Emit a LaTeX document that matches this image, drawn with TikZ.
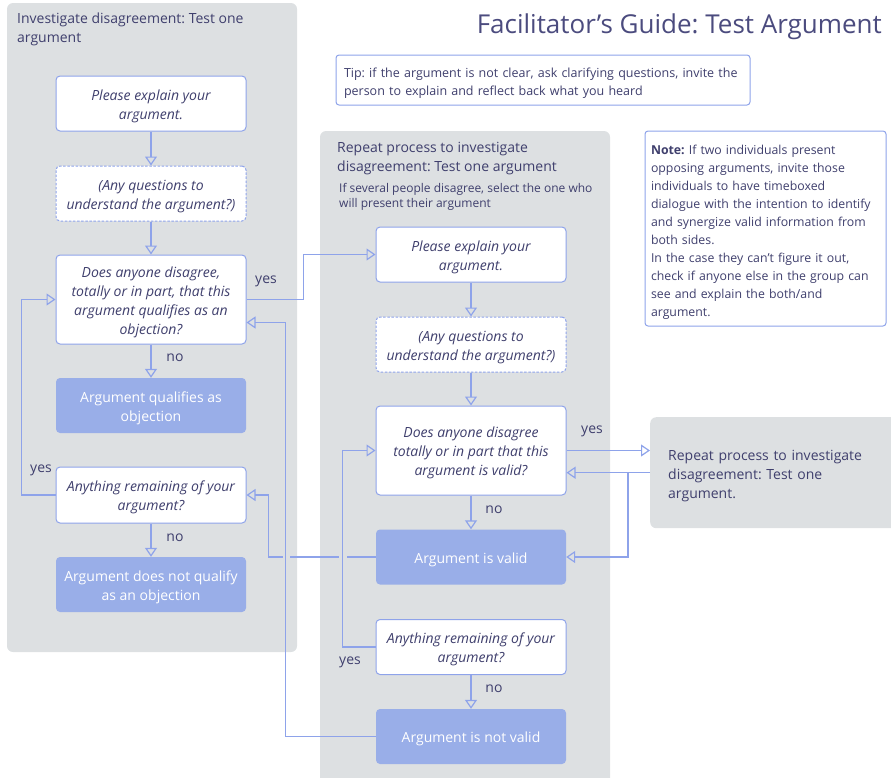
\documentclass[tikz,border=0pt]{standalone}
\usepackage{fontspec}
\setmainfont{Open Sans}
\usetikzlibrary{arrows.meta}
\definecolor{panelgray}{HTML}{DDE0E2}
\definecolor{edgeblue}{HTML}{8EA3EA}
\definecolor{fillblue}{HTML}{99AEE8}
\definecolor{ink}{HTML}{3F3F6D}
\definecolor{titleink}{HTML}{4B4B7E}
\newcommand{\fsz}[2]{\fontsize{#1}{#2}\selectfont}
\newcommand{\lift}{\rule{0pt}{16pt}}
\frenchspacing

\begin{document}
\begin{tikzpicture}[x=1pt, y=-1pt,
  panel/.style={fill=panelgray, rounded corners=6pt},
  card/.style={rounded corners=4pt, minimum width=190pt, inner sep=0pt, align=center},
  question/.style={card, draw=edgeblue, fill=white, line width=1pt, text=ink, font=\fsz{14}{19}\itshape},
  probe/.style={question, dash pattern=on 2.5pt off 1.6pt},
  outcome/.style={card, fill=fillblue, text=white, font=\fsz{14}{19}},
  conn/.style={draw=edgeblue, line width=1.2pt},
  arr/.style={conn, -{Triangle[open, length=9pt, width=12pt]}},
  lbl/.style={text=ink, font=\fsz{14}{16}, inner sep=0pt},
  heading/.style={text=ink, font=\fsz{14}{19}, inner sep=0pt, align=left, anchor=base west},
  notebox/.style={draw=edgeblue, fill=white, rounded corners=3pt, line width=1pt, align=left, text=ink, inner ysep=0pt, execute at begin node=\lift},
  hop/.style={fill=panelgray}
]
\useasboundingbox (0,0) rectangle (891,777);

% background panels
\fill[panel] (7,3) rectangle (297,652);
\fill[panel] (320,131) rectangle (610,800);

% headings (base anchor sits on the last line)
\node[text=titleink, font=\fsz{26}{30}, inner sep=0pt, anchor=base east] (title) at (882,33) {Facilitator’s Guide: Test Argument};
\node[heading] (lefthead) at (17,42) {Investigate disagreement: Test one\\argument};
\node[heading] (midhead) at (337,171) {Repeat process to investigate\\disagreement: Test one argument};
\node[heading, font=\fsz{12}{15.5}] (midsub) at (339,207.5) {If several people disagree, select the one who\\will present their argument};

% tip and note
\node[notebox, minimum width=414pt, minimum height=50pt, text width=398pt, inner xsep=8pt, font=\fsz{12.5}{18}] (tip) at (543,80)
  {Tip: if the argument is not clear, ask clarifying questions, invite the\\person to explain and reflect back what you heard};
\node[notebox, minimum width=241pt, minimum height=195pt, text width=229pt, inner xsep=6pt, font=\fsz{12.3}{18}] (note) at (765.5,228.5)
  {\textbf{Note:} If two individuals present\\opposing arguments, invite those\\individuals to have timeboxed\\dialogue with the intention to identify\\and synergize valid information from\\both sides.\\In the case they can’t figure it out,\\check if anyone else in the group can\\see and explain the both/and\\argument.};

% left column
\node[question, minimum height=55pt] (L1) at (151,103.5) {\lift Please explain your\\argument.};
\node[probe, minimum height=55pt] (L2) at (151,193.5) {\lift (Any questions to\\understand the argument?)};
\node[question, minimum height=89pt] (L3) at (151,299.5) {\lift Does anyone disagree,\\totally or in part, that this\\argument qualifies as an\\objection?};
\node[outcome, minimum height=55pt] (L4) at (151,405.5) {\lift Argument qualifies as\\objection};
\node[question, minimum height=56pt] (L5) at (151,495) {\lift Anything remaining of your\\argument?};
\node[outcome, minimum height=55pt] (L6) at (151,584.5) {\lift Argument does not qualify\\as an objection};

% middle column
\node[question, minimum height=55pt] (M1) at (471,254.5) {\lift Please explain your\\argument.};
\node[probe, minimum height=55pt] (M2) at (471,344.5) {\lift (Any questions to\\understand the argument?)};
\node[question, minimum height=89pt] (M3) at (471,450.5) {\lift Does anyone disagree\\totally or in part that this\\argument is valid?};
\node[outcome, minimum height=55pt] (M4) at (471,557) {\lift Argument is valid};
\node[question, minimum height=55pt] (M5) at (471,647) {\lift Anything remaining of your\\argument?};
\node[outcome, minimum height=55pt] (M6) at (471,736.5) {\lift Argument is not valid};

% nested repeat
\node[fill=panelgray, rounded corners=6pt, minimum width=250pt, minimum height=111pt, text width=214pt,
      inner xsep=18pt, inner ysep=0pt, align=left, text=ink, font=\fsz{14}{19}, anchor=north west,
      execute at begin node=\lift] (R) at (650,417)
  {Repeat process to investigate\\disagreement: Test one\\argument.};

% straight flow
\draw[arr] (L1) -- (L2);
\draw[arr] (L2) -- (L3);
\draw[arr] (L3) -- (L4);
\draw[arr] (L5) -- (L6);
\draw[arr] (M1) -- (M2);
\draw[arr] (M2) -- (M3);
\draw[arr] (M3) -- (M4);
\draw[arr] (M5) -- (M6);

% loops and branches
\draw[arr] (L5.west) -- ++(-34,0) |- (L3.west);
\draw[arr] (L3.east) -- ++(57,0) |- (M1.west);
\draw[arr] (M3.east) -- (R.west |- M3.east);
\draw[arr] (R.west) -- (M3.east |- R.west);
\coordinate (split) at (628,472.5);
\draw[arr] (split) |- (M4.east);
\draw[arr] (M4.west) -- ++(-107,0) |- (L5.east);
% line hops where the return path is crossed
\fill[hop] (282.5,554.5) rectangle (289.5,559.5);
\fill[hop] (339,554.5) rectangle (346.5,559.5);
\draw[arr] (M5.west) -- ++(-33,0) |- (M3.west);
\draw[arr] (M6.west) -- ++(-90,0) |- ([yshift=-23pt]L3.east);

% branch labels
\node[lbl] (yesA) at (266,281) {yes};
\node[lbl] (noA) at (175,358) {no};
\node[lbl] (yesB) at (41,470) {yes};
\node[lbl] (noB) at (175,538) {no};
\node[lbl] (noC) at (494,510) {no};
\node[lbl] (yesC) at (592,431) {yes};
\node[lbl] (yesD) at (350,662) {yes};
\node[lbl] (noD) at (494,689) {no};
\end{tikzpicture}
\end{document}
